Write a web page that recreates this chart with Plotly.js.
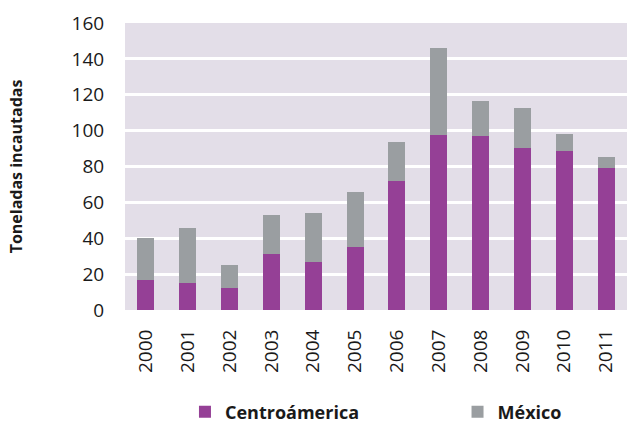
<!DOCTYPE html>
<html>
<head>
<meta charset="utf-8">
<script src="https://cdn.plot.ly/plotly-3.0.1.min.js"></script>
<style>html,body{margin:0;padding:0;background:#fff;}#chart{width:627px;height:423px;}</style>
</head>
<body>
<div id="chart"></div>
<script>
const years = ["2000","2001","2002","2003","2004","2005","2006","2007","2008","2009","2010","2011"];
const centroamerica = [16.7, 15.0, 12.3, 31.2, 26.6, 35.1, 71.9, 97.5, 97.0, 90.5, 88.6, 79.2];
const mexico = [23.4, 30.5, 12.6, 21.6, 27.3, 30.5, 21.9, 48.5, 19.5, 21.9, 9.7, 6.3];
const yTicks = [0, 20, 40, 60, 80, 100, 120, 140, 160];
const seriesNames = ["Centroámerica", "México"];

const FONT = "Open Sans, Noto Sans, sans-serif";
const pad = "&nbsp;".repeat(20);

const traces = [
  {type: "bar", name: "<b>" + seriesNames[0] + "</b>" + pad, x: years, y: centroamerica,
   marker: {color: "#954096", line: {width: 0}}},
  {type: "bar", name: "<b>" + seriesNames[1] + "</b>", x: years, y: mexico,
   marker: {color: "#9A9EA1", line: {width: 0}}}
];

const layout = {
  width: 627, height: 423,
  margin: {l: 125, r: 0, t: 23, b: 113},
  barmode: "stack",
  bargap: 0.59,
  paper_bgcolor: "#ffffff",
  plot_bgcolor: "#E3DEE8",
  font: {family: FONT, color: "#1a1a1a", size: 19},
  xaxis: {
    type: "category", tickangle: -90, showgrid: false, zeroline: false,
    showline: false, ticks: "outside", ticklen: 11, tickcolor: "rgba(0,0,0,0)",
    tickfont: {size: 19, color: "#1a1a1a"},
    range: [-0.5, 11.5], automargin: false
  },
  yaxis: {
    range: [0, 160], tickvals: yTicks, ticktext: yTicks.map(String),
    showgrid: true, gridcolor: "#ffffff", gridwidth: 3,
    zeroline: false, showline: false, ticks: "outside", ticklen: 16, tickcolor: "rgba(0,0,0,0)",
    tickfont: {size: 19, color: "#1a1a1a"}, automargin: false,
    title: {text: "<b>Toneladas incautadas</b>", font: {size: 16, color: "#1a1a1a"}, standoff: 45}
  },
  showlegend: true,
  legend: {
    orientation: "h", xref: "container", x: 0.295, xanchor: "left",
    yref: "container", y: 0.026, yanchor: "middle",
    font: {size: 18, color: "#1a1a1a", family: FONT}, traceorder: "normal",
    itemwidth: 30, bgcolor: "rgba(0,0,0,0)"
  },
  annotations: [{
    xref: "paper", yref: "paper", x: 0.225, y: 1, yanchor: "bottom", xanchor: "center",
    yshift: 20, showarrow: false,
    text: "<b>Cocaína incautada en Centroamérica y México, 2000-2011</b>",
    font: {size: 26, color: "#1a1a1a", family: FONT}
  }]
};

Plotly.newPlot("chart", traces, layout, {displayModeBar: false, staticPlot: true});
</script>
</body>
</html>
